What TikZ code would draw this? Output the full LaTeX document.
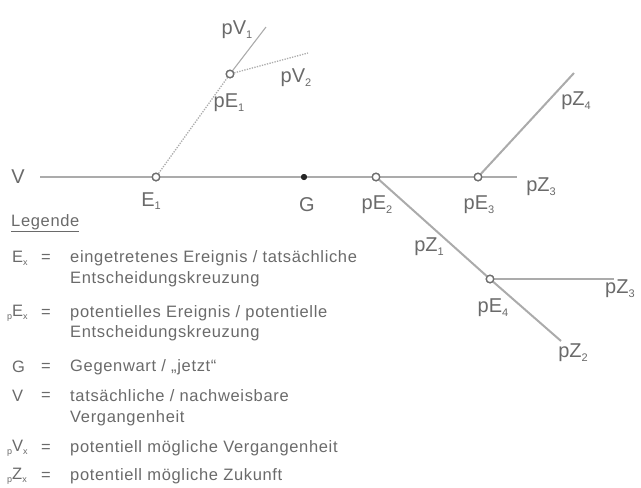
\documentclass[tikz,border=0pt]{standalone}
\usepackage{fontspec}
\setmainfont{Liberation Sans}
\newfontfamily\legfont[LetterSpace=4]{Liberation Sans}
\newcommand\lsub[2][11]{\raisebox{-0.35ex}{\fontsize{#1}{#1}\selectfont #2}}
\definecolor{linegray}{HTML}{ABABAB}
\definecolor{textgray}{HTML}{6A6A6A}
\definecolor{ringgray}{HTML}{6E6E6E}
\begin{document}
\begin{tikzpicture}[x=1pt,y=-1pt,
  branch/.style={draw=linegray,line width=2pt},
  thinbranch/.style={draw=linegray,line width=1.1pt},
  dotbranch/.style={draw=linegray,line width=1.3pt,dash pattern=on 1.3pt off 1.3pt},
  ring/.style={circle,draw=ringgray,fill=white,line width=1.3pt,minimum size=7.5pt,inner sep=0pt},
  now/.style={circle,fill=black!85,minimum size=6pt,inner sep=0pt},
  lab/.style={text=textgray,font=\fontsize{20}{20}\selectfont,inner sep=0pt},
  leg/.style={text=textgray,font=\legfont\fontsize{16.5}{16.5}\selectfont,inner sep=0pt,anchor=west},
  legsym/.style={text=textgray,font=\legfont\fontsize{16.5}{16.5}\selectfont,inner sep=0pt,anchor=west},
  legeq/.style={text=textgray,font=\legfont\fontsize{16.5}{16.5}\selectfont,inner sep=0pt}
]
\useasboundingbox (0,0) rectangle (641,488);

% points
\coordinate (vstart) at (40,177);
\coordinate (z3end) at (517,177);
\coordinate (v1end) at (266,27);
\coordinate (v2end) at (308,53);
\coordinate (z4end) at (574,73);
\coordinate (z2end) at (561,341);
\coordinate (z3bend) at (614,279);

\node[ring] (E1) at (156,177) {};
\node[now] (G) at (304,177) {};
\node[ring] (pE2) at (376,177) {};
\node[ring] (pE3) at (478,177) {};
\node[ring] (pE1) at (230,74) {};
\node[ring] (pE4) at (490,279) {};

% connectors
\draw[branch] (vstart) -- (E1);
\draw[branch] (E1) -- (G);
\draw[branch] (G) -- (pE2);
\draw[branch] (pE2) -- (pE3);
\draw[branch] (pE3) -- (z3end);
\draw[branch] (pE3) -- (z4end);
\draw[branch] (pE2) -- (pE4);
\draw[branch] (pE4) -- (z2end);
\draw[branch] (pE4) -- (z3bend);
\draw[dotbranch] (E1) -- (pE1);
\draw[thinbranch] (pE1) -- (v1end);
\draw[dotbranch] (pE1) -- (v2end);

% redraw rings on top
\node[ring] at (E1) {};
\node[ring] at (pE2) {};
\node[ring] at (pE3) {};
\node[ring] at (pE1) {};
\node[ring] at (pE4) {};
\node[now] at (G) {};

% labels
\node[lab] (lV) at (18,177) {V};
\node[lab] (lE1) at (151,201) {E\lsub{1}};
\node[lab] (lG) at (307,205) {G};
\node[lab] (lpE2) at (377,205) {pE\lsub{2}};
\node[lab] (lpE3) at (479,205) {pE\lsub{3}};
\node[lab] (lpZ3) at (541,187) {pZ\lsub{3}};
\node[lab] (lpZ4) at (576,101) {pZ\lsub{4}};
\node[lab] (lpZ1) at (429,247) {pZ\lsub{1}};
\node[lab] (lpE4) at (493,308) {pE\lsub{4}};
\node[lab,anchor=west] (lpZ3b) at (605,289) {pZ\lsub{3}};
\node[lab] (lpZ2) at (573,353) {pZ\lsub{2}};
\node[lab] (lpV1) at (237,30) {pV\lsub{1}};
\node[lab] (lpV2) at (296,78) {pV\lsub{2}};
\node[lab] (lpE1) at (229,103) {pE\lsub{1}};

% legend
\node[leg] (legtitle) at (11,223) {\underline{Legende}};

\node[legsym] (s1) at (12,258) {E\lsub[9]{x}};
\node[legeq] (q1) at (46,258) {=};
\node[leg] (t1a) at (70,258) {eingetretenes Ereignis / tatsächliche};
\node[leg] (t1b) at (70,279) {Entscheidungskreuzung};

\node[legsym] (s2) at (7,313) {\lsub[9]{p}E\lsub[9]{x}};
\node[legeq] (q2) at (46,313) {=};
\node[leg] (t2a) at (70,313) {potentielles Ereignis / potentielle};
\node[leg] (t2b) at (70,333) {Entscheidungskreuzung};

\node[legsym] (s3) at (12,367) {G};
\node[legeq] (q3) at (46,367) {=};
\node[leg] (t3a) at (70,367) {Gegenwart / „jetzt“};

\node[legsym] (s4) at (12,396) {V};
\node[legeq] (q4) at (46,396) {=};
\node[leg] (t4a) at (70,396) {tatsächliche / nachweisbare};
\node[leg] (t4b) at (70,418) {Vergangenheit};

\node[legsym] (s5) at (7,448) {\lsub[9]{p}V\lsub[9]{x}};
\node[legeq] (q5) at (46,448) {=};
\node[leg] (t5a) at (70,448) {potentiell mögliche Vergangenheit};

\node[legsym] (s6) at (7,476) {\lsub[9]{p}Z\lsub[9]{x}};
\node[legeq] (q6) at (46,476) {=};
\node[leg] (t6a) at (70,476) {potentiell mögliche Zukunft};
\end{tikzpicture}
\end{document}
